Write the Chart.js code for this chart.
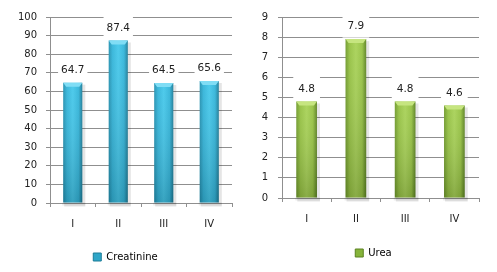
<!DOCTYPE html>
<html><head><meta charset="utf-8">
<script src="https://cdn.jsdelivr.net/npm/chart.js@4"></script>
<style>
html,body{margin:0;padding:0;background:#fff;}
#w1{position:absolute;left:0;top:0;width:251px;height:272px;}
#w2{position:absolute;left:250px;top:0;width:247px;height:272px;}
</style></head><body>
<div id="w1"><canvas id="c1"></canvas></div>
<div id="w2"><canvas id="c2"></canvas></div>
<script>
const categories = ['I', 'II', 'III', 'IV'];
const creatinineValues = [64.7, 87.4, 64.5, 65.6];
const ureaValues = [4.8, 7.9, 4.8, 4.6];
const creatinineAxis = [0, 100, 10];   // min, max, step
const ureaAxis = [0, 9, 1];            // min, max, step
const seriesNames = ['Creatinine', 'Urea'];

Chart.defaults.font.family = "'DejaVu Sans', Verdana, sans-serif";
Chart.defaults.font.size = 10;
Chart.defaults.color = '#222';

const GRID = '#8f8f8f';
const BAR_PCT = 0.42;

const cyan = {edge:'#2290B0', mid:'#33B5DA', light:'#45C8EB', edge2:'#1C7C98', cap:'#80DDF5', legend:'#2FA6C8'};
const green = {edge:'#6E992A', mid:'#96C243', light:'#A8D257', edge2:'#5B8221', cap:'#C6E580', legend:'#86B43A'};

const decoPlugin = {
  id: 'deco',
  beforeDatasetsDraw(chart) {
    const ctx = chart.ctx;
    ctx.save();
    chart.getDatasetMeta(0).data.forEach(el => {
      const x0 = el.x - el.width / 2;
      ctx.fillStyle = 'rgba(0,0,0,0.10)';
      ctx.fillRect(x0 + 1, el.y + 2, el.width + 2, el.base - el.y + 2);
      ctx.fillStyle = 'rgba(0,0,0,0.07)';
      ctx.fillRect(x0 - 1, el.base, el.width + 4, 3);
    });
    ctx.restore();
  },
  afterDatasetsDraw(chart, args, opts) {
    const ctx = chart.ctx;
    const meta = chart.getDatasetMeta(0);
    const vals = chart.data.datasets[0].data;
    ctx.save();
    meta.data.forEach((el, i) => {
      const x0 = el.x - el.width / 2, x1 = el.x + el.width / 2;
      const top = el.y, bot = el.base;
      const g = ctx.createLinearGradient(0, top, 0, bot);
      g.addColorStop(0, 'rgba(255,255,255,0.05)');
      g.addColorStop(1, 'rgba(0,0,0,0.18)');
      ctx.fillStyle = g;
      ctx.fillRect(x0, top, el.width, bot - top);
      // bevel cap
      ctx.fillStyle = opts.cap;
      ctx.beginPath();
      ctx.moveTo(x0, top); ctx.lineTo(x1, top);
      ctx.lineTo(x1 - 3, top + 4); ctx.lineTo(x0 + 3, top + 4);
      ctx.closePath(); ctx.fill();
      // data label
      const txt = vals[i].toFixed(1);
      ctx.font = "10.5px 'DejaVu Sans', Verdana, sans-serif";
      const tw = ctx.measureText(txt).width;
      const cy = top - 12.5;
      ctx.fillStyle = '#fff';
      ctx.fillRect(el.x - tw / 2 - opts.pad, cy - 12, tw + 2 * opts.pad, 23);
      ctx.fillStyle = '#222';
      ctx.textAlign = 'center';
      ctx.textBaseline = 'middle';
      ctx.fillText(txt, el.x, cy);
    });
    ctx.restore();
  }
};

function makeChart(id, name, values, axis, pal, geo) {
  const [mn, mx, st] = axis;
  return new Chart(document.getElementById(id), {
    type: 'bar',
    data: {
      labels: categories,
      datasets: [{
        label: name,
        data: values,
        barPercentage: BAR_PCT,
        categoryPercentage: 1,
        borderWidth: 0,
        backgroundColor: (c) => {
          const ch = c.chart, xs = ch.scales && ch.scales.x;
          if (!xs || c.type !== 'data' || !(xs.right > xs.left)) return pal.mid;
          const cx = xs.getPixelForValue(c.dataIndex);
          const w = (xs.right - xs.left) / categories.length * BAR_PCT;
          const g = ch.ctx.createLinearGradient(cx - w / 2, 0, cx + w / 2, 0);
          g.addColorStop(0, pal.edge);
          g.addColorStop(0.2, pal.mid);
          g.addColorStop(0.5, pal.light);
          g.addColorStop(0.8, pal.mid);
          g.addColorStop(1, pal.edge2);
          return g;
        }
      }]
    },
    options: {
      responsive: true,
      maintainAspectRatio: false,
      animation: false,
      devicePixelRatio: 1,
      layout: {padding: {left: 0, right: 0, top: geo.padT, bottom: geo.padB}},
      scales: {
        x: {
          offset: true,
          grid: {display: true, drawOnChartArea: false, drawTicks: true, tickLength: 4, color: GRID, offset: true},
          border: {display: true, color: GRID},
          ticks: {padding: 11, color: '#222', font: {size: 10}},
          afterFit: s => { s.height = geo.xH; s.paddingLeft = 0; s.paddingRight = 0; }
        },
        y: {
          min: mn, max: mx,
          ticks: {stepSize: st, padding: geo.lblPad, color: '#222', font: {size: 10}},
          grid: {color: GRID, tickLength: 4},
          border: {display: true, color: GRID},
          afterFit: s => { s.width = geo.yW; s.paddingTop = 0; s.paddingBottom = 0; }
        },
        spacer: {
          type: 'linear', position: 'right', display: true,
          grid: {display: false}, border: {display: false}, ticks: {display: false},
          afterFit: s => { s.width = geo.rW; s.paddingTop = 0; s.paddingBottom = 0; }
        }
      },
      plugins: {
        tooltip: {enabled: false},
        deco: {cap: pal.cap, pad: geo.lblBoxPad},
        legend: {
          position: 'bottom',
          labels: {
            boxWidth: 8, boxHeight: 8, padding: 10, color: '#222', font: {size: 10},
            generateLabels: (ch) => [{
              text: name, fillStyle: pal.legend, strokeStyle: pal.edge2, lineWidth: 1,
              hidden: false, datasetIndex: 0
            }]
          }
        }
      }
    },
    plugins: [decoPlugin]
  });
}

makeChart('c1', seriesNames[0], creatinineValues, creatinineAxis, cyan,
  {padT: 17, padB: 0, yW: 50, rW: 19, xH: 39, lblPad: 9, lblBoxPad: 3});
makeChart('c2', seriesNames[1], ureaValues, ureaAxis, green,
  {padT: 17, padB: 4, yW: 32, rW: 18, xH: 40, lblPad: 10, lblBoxPad: 5});
</script>
</body></html>
